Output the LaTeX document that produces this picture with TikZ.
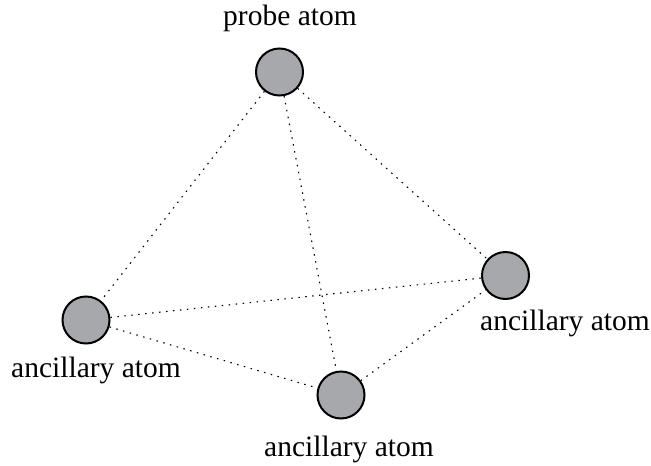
\documentclass[tikz,border=0pt]{standalone}
\usepackage{fontspec}
\setmainfont{Liberation Serif}
\definecolor{atomgray}{RGB}{167,168,172}
\begin{document}
\begin{tikzpicture}[x=1pt,y=-1pt,
  atom/.style={circle,draw=black,line width=2pt,fill=atomgray,minimum size=47pt,inner sep=0pt},
  bond/.style={line width=1.1pt,dash pattern=on 1.5pt off 5.5pt},
  lbl/.style={anchor=base,font=\fontsize{29.5}{35}\selectfont,inner sep=0pt}]
\useasboundingbox (0,0) rectangle (651,466);
% atoms
\node[atom] (p) at (279.5,72) {};
\node[atom] (l) at (86,320) {};
\node[atom] (b) at (341,395) {};
\node[atom] (r) at (505.5,275.5) {};
% bonds of the tetrahedron
\draw[bond] (p) -- (l);
\draw[bond] (p) -- (b);
\draw[bond] (p) -- (r);
\draw[bond] (l) -- (r);
\draw[bond] (l) -- (b);
\draw[bond] (b) -- (r);
% labels
\node[lbl] (pl) at (290,25) {probe atom};
\node[lbl] (ll) at (96,377) {ancillary atom};
\node[lbl] (bl) at (349,456) {ancillary atom};
\node[lbl] (rl) at (565,330) {ancillary atom};
\end{tikzpicture}
\end{document}
